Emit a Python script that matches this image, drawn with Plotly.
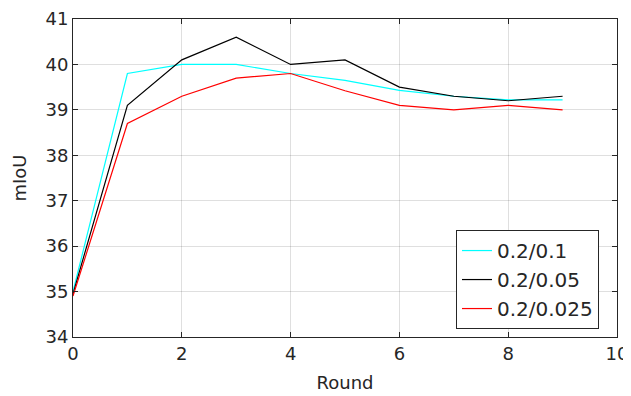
import plotly.graph_objects as go

rounds = [0, 1, 2, 3, 4, 5, 6, 7, 8, 9]
s_01 = [35.0, 39.8, 40.0, 40.0, 39.8, 39.65, 39.43, 39.3, 39.22, 39.22]
s_005 = [34.95, 39.1, 40.1, 40.6, 40.0, 40.1, 39.5, 39.3, 39.2, 39.3]
s_0025 = [34.9, 38.7, 39.3, 39.7, 39.8, 39.42, 39.1, 39.0, 39.1, 39.0]
names = ["0.2/0.1", "0.2/0.05", "0.2/0.025"]
colors = ["#00ffff", "#000000", "#ff0000"]

fig = go.Figure()
for name, ys, c in zip(names, [s_01, s_005, s_0025], colors):
    fig.add_trace(go.Scatter(x=rounds, y=ys, mode="lines", name=name,
                             line=dict(color=c, width=1.2)))

axis_common = dict(
    showline=True, linecolor="#262626", linewidth=1, mirror="ticks",
    ticks="inside", ticklen=5, tickcolor="#262626",
    showgrid=True, gridcolor="rgba(38,38,38,0.15)", gridwidth=1,
    zeroline=False, automargin=False,
    tickfont=dict(family="DejaVu Sans", size=18, color="#262626"),
)
fig.update_xaxes(range=[0, 10], dtick=2, tick0=0,
                 title=dict(text="Round", font=dict(family="DejaVu Sans", size=18, color="#262626"), standoff=13),
                 **axis_common)
fig.update_yaxes(range=[34, 41], dtick=1, tick0=34,
                 title=dict(text="mIoU", font=dict(family="DejaVu Sans", size=18, color="#262626"), standoff=14),
                 **axis_common)

# page body has an 8px margin, so the figure is sized to fit the window
fig.update_layout(
    width=623, height=388,
    margin=dict(l=65, r=14, t=11, b=59),
    paper_bgcolor="white", plot_bgcolor="white",
    showlegend=True,
    legend=dict(x=0.704, y=0.025, xanchor="left", yanchor="bottom",
                bgcolor="white", bordercolor="#262626", borderwidth=1,
                font=dict(family="DejaVu Sans", size=20, color="#262626"),
                tracegroupgap=0, itemwidth=30),
)
fig.write_html("out.html")
